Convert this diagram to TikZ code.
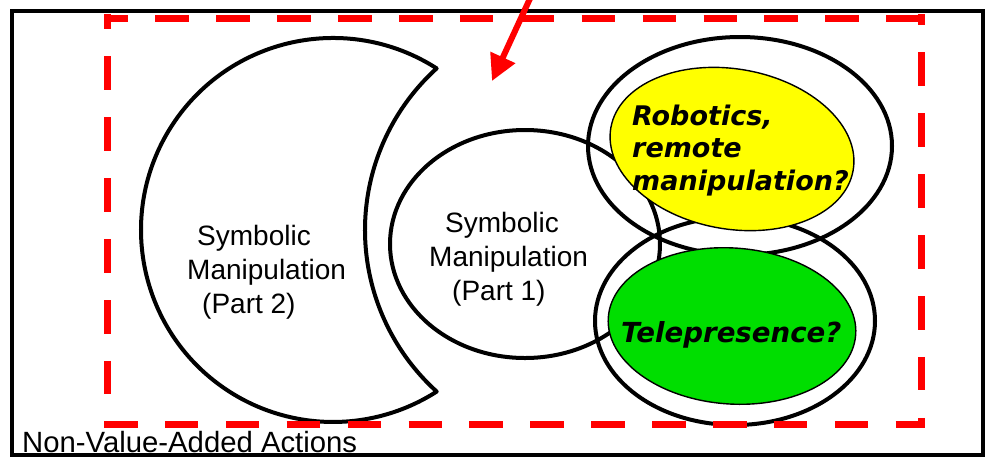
\documentclass[tikz,border=0pt]{standalone}
\usepackage{fontspec}
\setmainfont{Liberation Sans}
\newfontfamily\heavyfont{DejaVu Sans}
\usetikzlibrary{arrows.meta}
\definecolor{dashred}{RGB}{255,0,0}
\definecolor{bulbyellow}{RGB}{255,255,0}
\definecolor{bulbgreen}{RGB}{0,222,0}
\begin{document}
\begin{tikzpicture}[x=1pt,y=-1pt,
  outline/.style={draw=black,line width=4pt},
  zoneline/.style={draw=dashred,line width=7pt,dash pattern=on 33.5pt off 27.4pt},
  plainlabel/.style={inner sep=0pt,align=left,font=\fontsize{28}{34}\selectfont},
  heavylabel/.style={inner sep=0pt,align=left,font=\heavyfont\bfseries\itshape\fontsize{27}{32.5}\selectfont},
  bulb/.style={draw=black,line width=1.4pt}]
\useasboundingbox (0,0) rectangle (986,459);
\fill[white] (0,0) rectangle (986,459);

% outer frame
\draw[line width=3.2pt] (12,11) rectangle (983,455);

% crescent: outer circle minus a bite
\draw[outline,line join=round]
  (436.7,68.4) arc[start angle=-57.31,end angle=-302.69,radius=192]
  arc[start angle=132.15,end angle=227.85,radius=218] -- cycle;

% part 1 ellipse
\draw[outline] (525,244) ellipse[x radius=135,y radius=114];

% rings round the two bulbs
\draw[outline] (740,146) ellipse[x radius=152,y radius=109];
\draw[outline] (735,321) ellipse[x radius=140,y radius=104];

% filled bulbs
\filldraw[bulb,fill=bulbyellow,rotate around={-10:(732,149)}] (732,149) ellipse[x radius=123,y radius=80];
\filldraw[bulb,fill=bulbgreen,rotate around={-4:(732,326)}] (732,326) ellipse[x radius=124,y radius=78];

% red dashed zone
\draw[zoneline,dash phase=9.5pt] (104,18) -- (925,18);
\draw[zoneline,dash phase=22.5pt] (921,14) -- (921,428);
\draw[zoneline,dash phase=0pt] (104,424) -- (925,424);
\draw[zoneline,dash phase=18.5pt] (107,14) -- (107,428);

% pointer into the zone
\coordinate (ptrfrom) at (533,-8);
\coordinate (ptrto) at (492,81);
\draw[dashred,line width=6pt,-{Triangle[length=26pt,width=26pt]}] (ptrfrom) -- (ptrto);

% labels
\node[plainlabel,anchor=north west] (parttwo) at (187,224.6)
  {\hspace*{10pt}Symbolic\\Manipulation\\\hspace*{15pt}(Part 2)};
\node[plainlabel,anchor=north west] (partone) at (429,211.6)
  {\hspace*{16pt}Symbolic\\Manipulation\\\hspace*{23pt}(Part 1)};
\node[heavylabel,anchor=north west] (robotics) at (632,104.5)
  {Robotics,\\remote\\manipulation?};
\node[heavylabel,anchor=base west,font=\heavyfont\bfseries\itshape\fontsize{27.6}{33}\selectfont] (telepresence) at (621,342) {Telepresence?};
\node[inner sep=0pt,anchor=base west,font=\fontsize{29.3}{34}\selectfont] (nonvalue) at (22,452)
  {Non-Value-Added Actions};
\end{tikzpicture}
\end{document}
